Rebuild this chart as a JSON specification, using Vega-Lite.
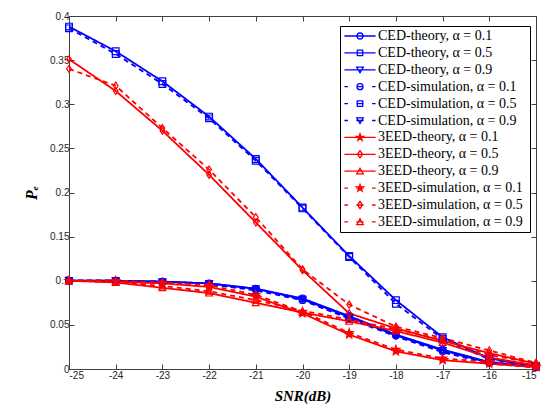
{
  "$schema": "https://vega.github.io/schema/vega-lite/v6.json",
  "width": 467,
  "height": 353,
  "autosize": "none",
  "padding": {"left": 69, "top": 16, "right": 12, "bottom": 42},
  "background": "white",
  "config": {
    "view": {"stroke": "#404040", "strokeWidth": 1},
    "axis": {
      "grid": false,
      "labelFont": "Liberation Sans",
      "labelFontSize": 10,
      "labelColor": "#262626",
      "domainColor": "#404040",
      "tickColor": "#404040",
      "tickSize": -5,
      "titleFont": "Liberation Serif",
      "titleFontStyle": "italic",
      "titleFontWeight": "bold",
      "titleColor": "black"
    }
  },
  "data": {
    "values": [
      {"s": "CED-theory, α = 0.1", "x": -25, "y": 0.100}, {"s": "CED-theory, α = 0.1", "x": -24, "y": 0.100}, {"s": "CED-theory, α = 0.1", "x": -23, "y": 0.099}, {"s": "CED-theory, α = 0.1", "x": -22, "y": 0.097}, {"s": "CED-theory, α = 0.1", "x": -21, "y": 0.091}, {"s": "CED-theory, α = 0.1", "x": -20, "y": 0.080}, {"s": "CED-theory, α = 0.1", "x": -19, "y": 0.060}, {"s": "CED-theory, α = 0.1", "x": -18, "y": 0.039}, {"s": "CED-theory, α = 0.1", "x": -17, "y": 0.022}, {"s": "CED-theory, α = 0.1", "x": -16, "y": 0.008}, {"s": "CED-theory, α = 0.1", "x": -15, "y": 0.003},
      {"s": "CED-theory, α = 0.5", "x": -25, "y": 0.388}, {"s": "CED-theory, α = 0.5", "x": -24, "y": 0.360}, {"s": "CED-theory, α = 0.5", "x": -23, "y": 0.326}, {"s": "CED-theory, α = 0.5", "x": -22, "y": 0.286}, {"s": "CED-theory, α = 0.5", "x": -21, "y": 0.238}, {"s": "CED-theory, α = 0.5", "x": -20, "y": 0.183}, {"s": "CED-theory, α = 0.5", "x": -19, "y": 0.128}, {"s": "CED-theory, α = 0.5", "x": -18, "y": 0.078}, {"s": "CED-theory, α = 0.5", "x": -17, "y": 0.036}, {"s": "CED-theory, α = 0.5", "x": -16, "y": 0.012}, {"s": "CED-theory, α = 0.5", "x": -15, "y": 0.003},
      {"s": "CED-theory, α = 0.9", "x": -25, "y": 0.100}, {"s": "CED-theory, α = 0.9", "x": -24, "y": 0.100}, {"s": "CED-theory, α = 0.9", "x": -23, "y": 0.099}, {"s": "CED-theory, α = 0.9", "x": -22, "y": 0.097}, {"s": "CED-theory, α = 0.9", "x": -21, "y": 0.091}, {"s": "CED-theory, α = 0.9", "x": -20, "y": 0.079}, {"s": "CED-theory, α = 0.9", "x": -19, "y": 0.059}, {"s": "CED-theory, α = 0.9", "x": -18, "y": 0.038}, {"s": "CED-theory, α = 0.9", "x": -17, "y": 0.021}, {"s": "CED-theory, α = 0.9", "x": -16, "y": 0.007}, {"s": "CED-theory, α = 0.9", "x": -15, "y": 0.003},
      {"s": "CED-simulation, α = 0.1", "x": -25, "y": 0.100}, {"s": "CED-simulation, α = 0.1", "x": -24, "y": 0.100}, {"s": "CED-simulation, α = 0.1", "x": -23, "y": 0.099}, {"s": "CED-simulation, α = 0.1", "x": -22, "y": 0.096}, {"s": "CED-simulation, α = 0.1", "x": -21, "y": 0.090}, {"s": "CED-simulation, α = 0.1", "x": -20, "y": 0.078}, {"s": "CED-simulation, α = 0.1", "x": -19, "y": 0.058}, {"s": "CED-simulation, α = 0.1", "x": -18, "y": 0.038}, {"s": "CED-simulation, α = 0.1", "x": -17, "y": 0.020}, {"s": "CED-simulation, α = 0.1", "x": -16, "y": 0.007}, {"s": "CED-simulation, α = 0.1", "x": -15, "y": 0.002},
      {"s": "CED-simulation, α = 0.5", "x": -25, "y": 0.386}, {"s": "CED-simulation, α = 0.5", "x": -24, "y": 0.357}, {"s": "CED-simulation, α = 0.5", "x": -23, "y": 0.323}, {"s": "CED-simulation, α = 0.5", "x": -22, "y": 0.284}, {"s": "CED-simulation, α = 0.5", "x": -21, "y": 0.236}, {"s": "CED-simulation, α = 0.5", "x": -20, "y": 0.182}, {"s": "CED-simulation, α = 0.5", "x": -19, "y": 0.127}, {"s": "CED-simulation, α = 0.5", "x": -18, "y": 0.074}, {"s": "CED-simulation, α = 0.5", "x": -17, "y": 0.034}, {"s": "CED-simulation, α = 0.5", "x": -16, "y": 0.011}, {"s": "CED-simulation, α = 0.5", "x": -15, "y": 0.003},
      {"s": "CED-simulation, α = 0.9", "x": -25, "y": 0.100}, {"s": "CED-simulation, α = 0.9", "x": -24, "y": 0.100}, {"s": "CED-simulation, α = 0.9", "x": -23, "y": 0.098}, {"s": "CED-simulation, α = 0.9", "x": -22, "y": 0.096}, {"s": "CED-simulation, α = 0.9", "x": -21, "y": 0.089}, {"s": "CED-simulation, α = 0.9", "x": -20, "y": 0.078}, {"s": "CED-simulation, α = 0.9", "x": -19, "y": 0.057}, {"s": "CED-simulation, α = 0.9", "x": -18, "y": 0.037}, {"s": "CED-simulation, α = 0.9", "x": -17, "y": 0.019}, {"s": "CED-simulation, α = 0.9", "x": -16, "y": 0.006}, {"s": "CED-simulation, α = 0.9", "x": -15, "y": 0.002},
      {"s": "3EED-theory, α = 0.1", "x": -25, "y": 0.100}, {"s": "3EED-theory, α = 0.1", "x": -24, "y": 0.099}, {"s": "3EED-theory, α = 0.1", "x": -23, "y": 0.097}, {"s": "3EED-theory, α = 0.1", "x": -22, "y": 0.093}, {"s": "3EED-theory, α = 0.1", "x": -21, "y": 0.082}, {"s": "3EED-theory, α = 0.1", "x": -20, "y": 0.063}, {"s": "3EED-theory, α = 0.1", "x": -19, "y": 0.039}, {"s": "3EED-theory, α = 0.1", "x": -18, "y": 0.020}, {"s": "3EED-theory, α = 0.1", "x": -17, "y": 0.010}, {"s": "3EED-theory, α = 0.1", "x": -16, "y": 0.006}, {"s": "3EED-theory, α = 0.1", "x": -15, "y": 0.002},
      {"s": "3EED-theory, α = 0.5", "x": -25, "y": 0.351}, {"s": "3EED-theory, α = 0.5", "x": -24, "y": 0.315}, {"s": "3EED-theory, α = 0.5", "x": -23, "y": 0.270}, {"s": "3EED-theory, α = 0.5", "x": -22, "y": 0.220}, {"s": "3EED-theory, α = 0.5", "x": -21, "y": 0.166}, {"s": "3EED-theory, α = 0.5", "x": -20, "y": 0.112}, {"s": "3EED-theory, α = 0.5", "x": -19, "y": 0.063}, {"s": "3EED-theory, α = 0.5", "x": -18, "y": 0.046}, {"s": "3EED-theory, α = 0.5", "x": -17, "y": 0.032}, {"s": "3EED-theory, α = 0.5", "x": -16, "y": 0.018}, {"s": "3EED-theory, α = 0.5", "x": -15, "y": 0.006},
      {"s": "3EED-theory, α = 0.9", "x": -25, "y": 0.100}, {"s": "3EED-theory, α = 0.9", "x": -24, "y": 0.098}, {"s": "3EED-theory, α = 0.9", "x": -23, "y": 0.092}, {"s": "3EED-theory, α = 0.9", "x": -22, "y": 0.086}, {"s": "3EED-theory, α = 0.9", "x": -21, "y": 0.075}, {"s": "3EED-theory, α = 0.9", "x": -20, "y": 0.064}, {"s": "3EED-theory, α = 0.9", "x": -19, "y": 0.054}, {"s": "3EED-theory, α = 0.9", "x": -18, "y": 0.043}, {"s": "3EED-theory, α = 0.9", "x": -17, "y": 0.030}, {"s": "3EED-theory, α = 0.9", "x": -16, "y": 0.013}, {"s": "3EED-theory, α = 0.9", "x": -15, "y": 0.004},
      {"s": "3EED-simulation, α = 0.1", "x": -25, "y": 0.100}, {"s": "3EED-simulation, α = 0.1", "x": -24, "y": 0.100}, {"s": "3EED-simulation, α = 0.1", "x": -23, "y": 0.098}, {"s": "3EED-simulation, α = 0.1", "x": -22, "y": 0.095}, {"s": "3EED-simulation, α = 0.1", "x": -21, "y": 0.084}, {"s": "3EED-simulation, α = 0.1", "x": -20, "y": 0.065}, {"s": "3EED-simulation, α = 0.1", "x": -19, "y": 0.041}, {"s": "3EED-simulation, α = 0.1", "x": -18, "y": 0.022}, {"s": "3EED-simulation, α = 0.1", "x": -17, "y": 0.012}, {"s": "3EED-simulation, α = 0.1", "x": -16, "y": 0.008}, {"s": "3EED-simulation, α = 0.1", "x": -15, "y": 0.003},
      {"s": "3EED-simulation, α = 0.5", "x": -25, "y": 0.340}, {"s": "3EED-simulation, α = 0.5", "x": -24, "y": 0.321}, {"s": "3EED-simulation, α = 0.5", "x": -23, "y": 0.273}, {"s": "3EED-simulation, α = 0.5", "x": -22, "y": 0.226}, {"s": "3EED-simulation, α = 0.5", "x": -21, "y": 0.172}, {"s": "3EED-simulation, α = 0.5", "x": -20, "y": 0.113}, {"s": "3EED-simulation, α = 0.5", "x": -19, "y": 0.073}, {"s": "3EED-simulation, α = 0.5", "x": -18, "y": 0.048}, {"s": "3EED-simulation, α = 0.5", "x": -17, "y": 0.035}, {"s": "3EED-simulation, α = 0.5", "x": -16, "y": 0.021}, {"s": "3EED-simulation, α = 0.5", "x": -15, "y": 0.007},
      {"s": "3EED-simulation, α = 0.9", "x": -25, "y": 0.100}, {"s": "3EED-simulation, α = 0.9", "x": -24, "y": 0.099}, {"s": "3EED-simulation, α = 0.9", "x": -23, "y": 0.094}, {"s": "3EED-simulation, α = 0.9", "x": -22, "y": 0.088}, {"s": "3EED-simulation, α = 0.9", "x": -21, "y": 0.078}, {"s": "3EED-simulation, α = 0.9", "x": -20, "y": 0.066}, {"s": "3EED-simulation, α = 0.9", "x": -19, "y": 0.056}, {"s": "3EED-simulation, α = 0.9", "x": -18, "y": 0.045}, {"s": "3EED-simulation, α = 0.9", "x": -17, "y": 0.033}, {"s": "3EED-simulation, α = 0.9", "x": -16, "y": 0.016}, {"s": "3EED-simulation, α = 0.9", "x": -15, "y": 0.006}
    ]
  },
  "layer": [
    {
      "mark": {"type": "line"},
      "encoding": {
        "x": {"field": "x", "type": "quantitative", "scale": {"domain": [-25, -15], "nice": false, "zero": false},
              "axis": {"title": "SNR(dB)", "titleFontSize": 15, "titlePadding": 8, "labelPadding": 6, "values": [-25, -24, -23, -22, -21, -20, -19, -18, -17, -16, -15], "labelExpr": "datum.value + ''"}},
        "y": {"field": "y", "type": "quantitative", "scale": {"domain": [0, 0.4], "nice": false},
              "axis": {"title": "Pₑ", "titleFontSize": 16, "titlePadding": 10, "labelPadding": 5, "values": [0, 0.05, 0.1, 0.15, 0.2, 0.25, 0.3, 0.35, 0.4], "format": ".2~f"}},
        "stroke": {"field": "s", "type": "nominal", "legend": null,
                   "scale": {"domain": ["CED-theory, α = 0.1", "CED-theory, α = 0.5", "CED-theory, α = 0.9", "CED-simulation, α = 0.1", "CED-simulation, α = 0.5", "CED-simulation, α = 0.9", "3EED-theory, α = 0.1", "3EED-theory, α = 0.5", "3EED-theory, α = 0.9", "3EED-simulation, α = 0.1", "3EED-simulation, α = 0.5", "3EED-simulation, α = 0.9"],
                             "range": ["#0000ff", "#0000ff", "#0000ff", "#0000ff", "#0000ff", "#0000ff", "#ff0000", "#ff0000", "#ff0000", "#ff0000", "#ff0000", "#ff0000"]}},
        "strokeWidth": {"field": "s", "type": "nominal", "legend": null,
                   "scale": {"domain": ["CED-theory, α = 0.1", "CED-theory, α = 0.5", "CED-theory, α = 0.9", "CED-simulation, α = 0.1", "CED-simulation, α = 0.5", "CED-simulation, α = 0.9", "3EED-theory, α = 0.1", "3EED-theory, α = 0.5", "3EED-theory, α = 0.9", "3EED-simulation, α = 0.1", "3EED-simulation, α = 0.5", "3EED-simulation, α = 0.9"],
                             "range": [1.8, 1.8, 1.8, 1.8, 1.8, 1.8, 1.3, 1.3, 1.3, 1.3, 1.3, 1.3]}},
        "strokeDash": {"field": "s", "type": "nominal", "legend": null,
                   "scale": {"domain": ["CED-theory, α = 0.1", "CED-theory, α = 0.5", "CED-theory, α = 0.9", "CED-simulation, α = 0.1", "CED-simulation, α = 0.5", "CED-simulation, α = 0.9", "3EED-theory, α = 0.1", "3EED-theory, α = 0.5", "3EED-theory, α = 0.9", "3EED-simulation, α = 0.1", "3EED-simulation, α = 0.5", "3EED-simulation, α = 0.9"],
                             "range": [[1, 0], [1, 0], [1, 0], [5, 4], [5, 4], [5, 4], [1, 0], [1, 0], [1, 0], [5, 4], [5, 4], [5, 4]]}}
      }
    },
    {
      "mark": {"type": "point", "filled": true, "size": 45, "strokeWidth": 1.2, "opacity": 1},
      "encoding": {
        "x": {"field": "x", "type": "quantitative", "axis": null},
        "y": {"field": "y", "type": "quantitative", "axis": null},
        "stroke": {"field": "s", "type": "nominal", "legend": null,
                   "scale": {"domain": ["CED-theory, α = 0.1", "CED-theory, α = 0.5", "CED-theory, α = 0.9", "CED-simulation, α = 0.1", "CED-simulation, α = 0.5", "CED-simulation, α = 0.9", "3EED-theory, α = 0.1", "3EED-theory, α = 0.5", "3EED-theory, α = 0.9", "3EED-simulation, α = 0.1", "3EED-simulation, α = 0.5", "3EED-simulation, α = 0.9"],
                             "range": ["#0000ff", "#0000ff", "#0000ff", "#0000ff", "#0000ff", "#0000ff", "#ff0000", "#ff0000", "#ff0000", "#ff0000", "#ff0000", "#ff0000"]}},
        "fill": {"field": "s", "type": "nominal", "legend": null,
                 "scale": {"domain": ["CED-theory, α = 0.1", "CED-theory, α = 0.5", "CED-theory, α = 0.9", "CED-simulation, α = 0.1", "CED-simulation, α = 0.5", "CED-simulation, α = 0.9", "3EED-theory, α = 0.1", "3EED-theory, α = 0.5", "3EED-theory, α = 0.9", "3EED-simulation, α = 0.1", "3EED-simulation, α = 0.5", "3EED-simulation, α = 0.9"],
                           "range": ["transparent", "transparent", "transparent", "transparent", "transparent", "transparent", "#ff0000", "transparent", "transparent", "#ff0000", "transparent", "transparent"]}},
        "shape": {"field": "s", "type": "nominal", "legend": null,
                  "scale": {"domain": ["CED-theory, α = 0.1", "CED-theory, α = 0.5", "CED-theory, α = 0.9", "CED-simulation, α = 0.1", "CED-simulation, α = 0.5", "CED-simulation, α = 0.9", "3EED-theory, α = 0.1", "3EED-theory, α = 0.5", "3EED-theory, α = 0.9", "3EED-simulation, α = 0.1", "3EED-simulation, α = 0.5", "3EED-simulation, α = 0.9"],
                            "range": ["circle", "square", "triangle-down", "circle", "square", "triangle-down",
                                      "M0,-1.2L0.27,-0.37L1.14,-0.37L0.44,0.14L0.71,0.97L0,0.46L-0.71,0.97L-0.44,0.14L-1.14,-0.37L-0.27,-0.37Z",
                                      "M0,-1.05L0.7,0L0,1.05L-0.7,0Z", "triangle-up",
                                      "M0,-1.2L0.27,-0.37L1.14,-0.37L0.44,0.14L0.71,0.97L0,0.46L-0.71,0.97L-0.44,0.14L-1.14,-0.37L-0.27,-0.37Z",
                                      "M0,-1.05L0.7,0L0,1.05L-0.7,0Z", "triangle-up"]}}
      }
    },
    {
      "transform": [{"filter": "datum.y < 0"}],
      "mark": {"type": "point", "filled": true, "strokeWidth": 1.3, "opacity": 1},
      "encoding": {
        "x": {"field": "x", "type": "quantitative", "axis": {"orient": "top", "labels": false, "title": null, "values": [-25, -24, -23, -22, -21, -20, -19, -18, -17, -16, -15]}},
        "y": {"field": "y", "type": "quantitative", "axis": {"orient": "right", "labels": false, "title": null, "values": [0, 0.05, 0.1, 0.15, 0.2, 0.25, 0.3, 0.35, 0.4]}},
        "fill": {"field": "s", "type": "nominal",
                 "scale": {"domain": ["CED-theory, α = 0.1", "CED-theory, α = 0.5", "CED-theory, α = 0.9", "CED-simulation, α = 0.1", "CED-simulation, α = 0.5", "CED-simulation, α = 0.9", "3EED-theory, α = 0.1", "3EED-theory, α = 0.5", "3EED-theory, α = 0.9", "3EED-simulation, α = 0.1", "3EED-simulation, α = 0.5", "3EED-simulation, α = 0.9"],
                           "range": ["transparent", "transparent", "transparent", "transparent", "transparent", "transparent", "#ff0000", "transparent", "transparent", "#ff0000", "transparent", "transparent"]},
                 "legend": {
                    "title": "\u00a0\u00a0\u00a0\u00a0",
                    "titleOrient": "right",
                    "titlePadding": 4,
                    "titleFontSize": 14,
                    "orient": "none",
                    "legendX": 271,
                    "legendY": 10,
                    "strokeColor": "black",
                    "fillColor": "white",
                    "padding": 3,
                    "cornerRadius": 0,
                    "labelFont": "Liberation Serif",
                    "labelFontSize": 14,
                    "labelColor": "black",
                    "labelLimit": 400,
                    "symbolSize": 144,
                    "symbolStrokeWidth": 1.3,
                    "symbolOpacity": 1,
                    "symbolOffset": 10,
                    "labelOffset": 11,
                    "rowPadding": 2.9
                 }},
        "stroke": {"field": "s", "type": "nominal",
                   "scale": {"domain": ["CED-theory, α = 0.1", "CED-theory, α = 0.5", "CED-theory, α = 0.9", "CED-simulation, α = 0.1", "CED-simulation, α = 0.5", "CED-simulation, α = 0.9", "3EED-theory, α = 0.1", "3EED-theory, α = 0.5", "3EED-theory, α = 0.9", "3EED-simulation, α = 0.1", "3EED-simulation, α = 0.5", "3EED-simulation, α = 0.9"],
                             "range": ["#0000ff", "#0000ff", "#0000ff", "#0000ff", "#0000ff", "#0000ff", "#ff0000", "#ff0000", "#ff0000", "#ff0000", "#ff0000", "#ff0000"]}},
        "shape": {"field": "s", "type": "nominal",
                  "scale": {"domain": ["CED-theory, α = 0.1", "CED-theory, α = 0.5", "CED-theory, α = 0.9", "CED-simulation, α = 0.1", "CED-simulation, α = 0.5", "CED-simulation, α = 0.9", "3EED-theory, α = 0.1", "3EED-theory, α = 0.5", "3EED-theory, α = 0.9", "3EED-simulation, α = 0.1", "3EED-simulation, α = 0.5", "3EED-simulation, α = 0.9"],
                            "range": [
                              "M-2.6,0H2.6M-0.5,0A0.5,0.5 0 1,1 0.5,0A0.5,0.5 0 1,1 -0.5,0Z",
                              "M-2.6,0H2.6M-0.45,-0.45H0.45V0.45H-0.45Z",
                              "M-2.6,0H2.6M-0.55,-0.45L0.55,-0.45L0,0.5Z",
                              "M-2.6,0H-2M-0.6,0H0.6M2,0H2.6M-0.5,0A0.5,0.5 0 1,1 0.5,0A0.5,0.5 0 1,1 -0.5,0Z",
                              "M-2.6,0H-2M-0.6,0H0.6M2,0H2.6M-0.45,-0.45H0.45V0.45H-0.45Z",
                              "M-2.6,0H-2M-0.6,0H0.6M2,0H2.6M-0.55,-0.45L0.55,-0.45L0,0.5Z",
                              "M-2.6,0H2.6M0,-0.6L0.135,-0.185L0.571,-0.185L0.218,0.071L0.353,0.485L0,0.229L-0.353,0.485L-0.218,0.071L-0.571,-0.185L-0.135,-0.185Z",
                              "M-2.6,0H2.6M0,-0.6L0.42,0L0,0.6L-0.42,0Z",
                              "M-2.6,0H2.6M-0.55,0.45L0.55,0.45L0,-0.5Z",
                              "M-2.6,0H-2M-0.6,0H0.6M2,0H2.6M0,-0.6L0.135,-0.185L0.571,-0.185L0.218,0.071L0.353,0.485L0,0.229L-0.353,0.485L-0.218,0.071L-0.571,-0.185L-0.135,-0.185Z",
                              "M-2.6,0H-2M-0.6,0H0.6M2,0H2.6M0,-0.6L0.42,0L0,0.6L-0.42,0Z",
                              "M-2.6,0H-2M-0.6,0H0.6M2,0H2.6M-0.55,0.45L0.55,0.45L0,-0.5Z"
                            ]}}
      }
    }
  ],
  "resolve": {
    "scale": {"shape": "independent", "stroke": "independent", "fill": "independent"},
    "axis": {"x": "independent", "y": "independent"}
  }
}
